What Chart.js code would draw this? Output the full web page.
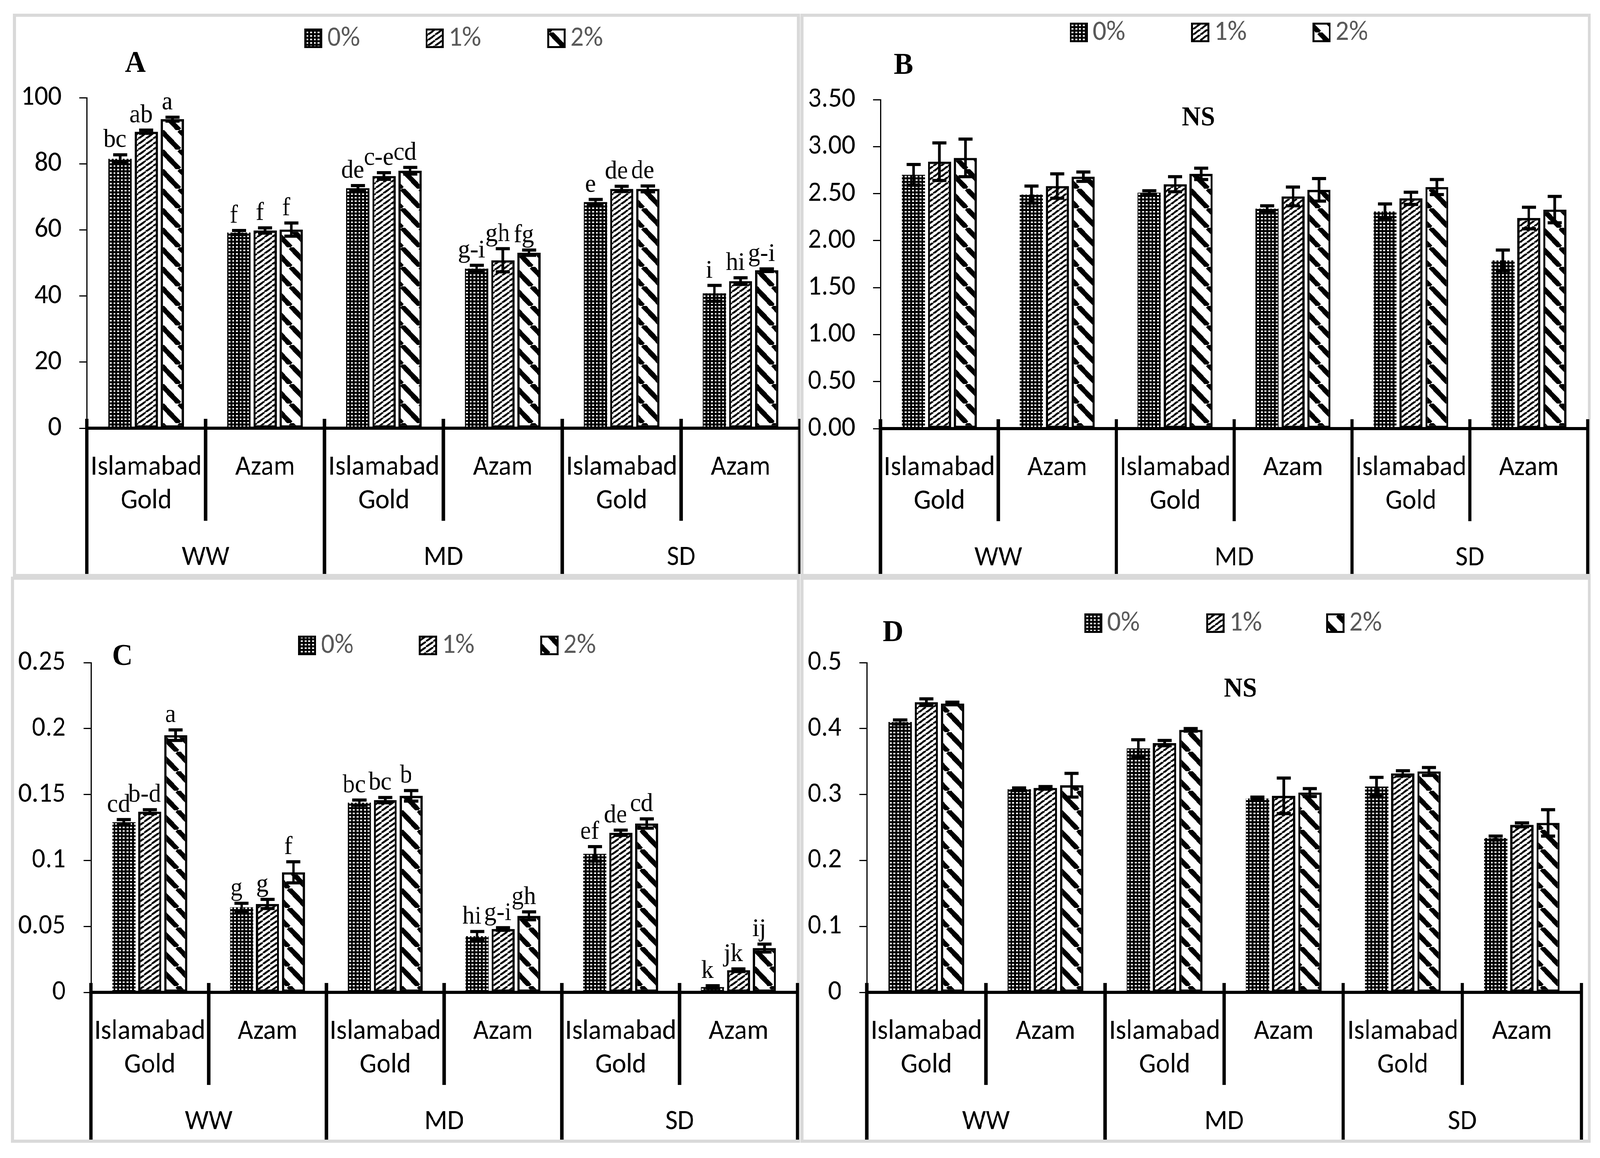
<!DOCTYPE html>
<html>
<head>
<meta charset="utf-8">
<script src="https://cdn.jsdelivr.net/npm/chart.js@4.4.0/dist/chart.umd.min.js"></script>
<style>
  html, body { margin: 0; background: #fff; overflow: hidden; }
  #wrap { position: relative; overflow: hidden; background: #fff; }
  #page { position: absolute; left: 0; top: 0; width: 4312px; height: 2964px; transform-origin: 0 0; background: #fff; }
  canvas { position: absolute; }
</style>
</head>
<body>
<div id="wrap">
<div id="page">
<canvas id="pA"></canvas>
<canvas id="pB"></canvas>
<canvas id="pC"></canvas>
<canvas id="pD"></canvas>
</div>
</div>
<script>
// categories
const cultivars = [['Islamabad', 'Gold'], ['Azam'], ['Islamabad', 'Gold'], ['Azam'], ['Islamabad', 'Gold'], ['Azam']];
const regimes = ['WW', 'MD', 'SD'];
const levels = ['0%', '1%', '2%'];

// panel A
const a0 = [81.5, 59.2, 72.6, 48.3, 68.4, 40.8];
const a0err = [1.2, 0.6, 0.8, 1.0, 0.8, 2.4];
const a0let = ['bc', 'f', 'de', 'g-i', 'e', 'i'];
const a1 = [89.7, 59.8, 76.3, 50.8, 72.4, 44.5];
const a1err = [0.5, 0.8, 1.0, 3.5, 0.8, 1.0];
const a1let = ['ab', 'f', 'c-e', 'gh', 'de', 'hi'];
const a2 = [93.5, 60.1, 77.9, 53.1, 72.4, 47.8];
const a2err = [0.6, 2.0, 1.0, 0.8, 0.9, 0.4];
const a2let = ['a', 'f', 'cd', 'fg', 'de', 'g-i'];
const tickValA = [0, 20, 40, 60, 80, 100];
const tickLabA = ['0', '20', '40', '60', '80', '100'];

// panel B
const b0 = [2.70, 2.49, 2.51, 2.34, 2.31, 1.79];
const b0err = [0.11, 0.09, 0.02, 0.03, 0.08, 0.11];
const b1 = [2.84, 2.58, 2.60, 2.47, 2.45, 2.24];
const b1err = [0.20, 0.13, 0.08, 0.10, 0.065, 0.115];
const b2 = [2.88, 2.68, 2.71, 2.54, 2.57, 2.33];
const b2err = [0.20, 0.05, 0.06, 0.12, 0.08, 0.14];
const tickValB = [0, 0.5, 1, 1.5, 2, 2.5, 3, 3.5];
const tickLabB = ['0.00', '0.50', '1.00', '1.50', '2.00', '2.50', '3.00', '3.50'];

// panel C
const c0 = [0.129, 0.0645, 0.1438, 0.0426, 0.105, 0.004];
const c0err = [0.002, 0.003, 0.002, 0.0035, 0.0055, 0.001];
const c0let = ['cd', 'g', 'bc', 'hi', 'ef', 'k'];
const c1 = [0.137, 0.067, 0.1457, 0.048, 0.121, 0.0168];
const c1err = [0.0015, 0.0035, 0.002, 0.001, 0.002, 0.001];
const c1let = ['b-d', 'g', 'bc', 'g-i', 'de', 'jk'];
const c2 = [0.195, 0.091, 0.149, 0.058, 0.128, 0.0336];
const c2err = [0.004, 0.008, 0.004, 0.003, 0.0035, 0.003];
const c2let = ['a', 'f', 'b', 'gh', 'cd', 'ij'];
const tickValC = [0, 0.05, 0.1, 0.15, 0.2, 0.25];
const tickLabC = ['0', '0.05', '0.1', '0.15', '0.2', '0.25'];

// panel D
const d0 = [0.41, 0.308, 0.37, 0.294, 0.312, 0.234];
const d0err = [0.003, 0.002, 0.013, 0.002, 0.014, 0.003];
const d1 = [0.44, 0.31, 0.378, 0.298, 0.332, 0.254];
const d1err = [0.005, 0.002, 0.004, 0.027, 0.004, 0.003];
const d2 = [0.438, 0.314, 0.398, 0.303, 0.335, 0.257];
const d2err = [0.002, 0.018, 0.002, 0.006, 0.006, 0.02];
const tickValD = [0, 0.1, 0.2, 0.3, 0.4, 0.5];
const tickLabD = ['0', '0.1', '0.2', '0.3', '0.4', '0.5'];

const SANS = 'Carlito, "Liberation Sans Narrow", "DejaVu Sans Condensed", sans-serif';
const SERIF = '"Liberation Serif", "Times New Roman", serif';

// stretch the 4312x2964 layout over the whole viewport we actually get
const wrap = document.getElementById('wrap');
const page = document.getElementById('page');
const vw = window.innerWidth, vh = window.innerHeight;
wrap.style.width = vw + 'px';
wrap.style.height = vh + 'px';
const sx = vw / 4312, sy = vh / 2964;
page.style.transform = 'scale(' + sx + ',' + sy + ')';
const dpr = (window.devicePixelRatio || 1) * Math.max(sx, sy);

// hatch patterns
function patDots() {
    let c = document.createElement('canvas');
    c.width = 10; c.height = 9;
    let x = c.getContext('2d');
    x.fillStyle = '#000'; x.fillRect(0, 0, 10, 9);
    x.fillStyle = '#fff'; x.fillRect(3, 3, 5, 4);
    return x.createPattern(c, 'repeat');
}
function patDiag(w, h, lw, up) {
    let c = document.createElement('canvas');
    c.width = w; c.height = h;
    let x = c.getContext('2d');
    x.fillStyle = '#fff'; x.fillRect(0, 0, w, h);
    x.strokeStyle = '#000'; x.lineWidth = lw;
    x.beginPath();
    for (let k = -1; k <= 1; k++) {
        if (up) { x.moveTo(k * w, h); x.lineTo(k * w + w, 0); }
        else { x.moveTo(k * w, 0); x.lineTo(k * w + w, h); }
    }
    x.stroke();
    return x.createPattern(c, 'repeat');
}
const fills = [patDots(), patDiag(20, 14, 5, true), patDiag(50, 50, 13, false)];

const panels = [
    { id: 'pA', frame: [39, 39, 2152, 1473], axisL: 234, axisR: 2156, yTop: 250, y0: 1096,
      vals: tickValA, labs: tickLabA, series: [a0, a1, a2], errs: [a0err, a1err, a2err], lets: [a0let, a1let, a2let],
      legX: [820, 1147, 1475], legY: 73, tag: 'A', tagXY: [365, 184], ns: null },
    { id: 'pB', frame: [2161, 39, 4283, 1473], axisL: 2373, axisR: 4279, yTop: 255, y0: 1097,
      vals: tickValB, labs: tickLabB, series: [b0, b1, b2], errs: [b0err, b1err, b2err], lets: null,
      legX: [2883, 3210, 3537], legY: 58, tag: 'B', tagXY: [2435, 189], ns: [3230, 321] },
    { id: 'pC', frame: [34, 1480, 2152, 2921], axisL: 245, axisR: 2149, yTop: 1696, y0: 2540,
      vals: tickValC, labs: tickLabC, series: [c0, c1, c2], errs: [c0err, c1err, c2err], lets: [c0let, c1let, c2let],
      legX: [803, 1129, 1456], legY: 1627, tag: 'C', tagXY: [330, 1702], ns: null },
    { id: 'pD', frame: [2161, 1480, 4283, 2921], axisL: 2336, axisR: 4262, yTop: 1696, y0: 2540,
      vals: tickValD, labs: tickLabD, series: [d0, d1, d2], errs: [d0err, d1err, d2err], lets: null,
      legX: [2922, 3251, 3574], legY: 1570, tag: 'D', tagXY: [2407, 1641], ns: [3343, 1783] }
];

function makePanel(p) {
    let cv = document.getElementById(p.id);
    let ox = p.frame[0] - 6, oy = p.frame[1] - 6;
    let W = p.frame[2] - p.frame[0] + 12, H = p.frame[3] - p.frame[1] + 12;
    cv.width = W; cv.height = H;
    cv.style.left = ox + 'px'; cv.style.top = oy + 'px';
    cv.style.width = W + 'px'; cv.style.height = H + 'px';

    let decor = {
        id: 'decor' + p.id,
        beforeDraw(chart) {
            let ctx = chart.ctx;
            ctx.save();
            ctx.strokeStyle = '#d9d9d9';
            ctx.lineWidth = 8;
            ctx.strokeRect(6, 6, W - 12, H - 12);
            ctx.restore();
        },
        afterDatasetsDraw(chart) {
            let ctx = chart.ctx;
            let ys = chart.scales.y;
            ctx.save();
            ctx.strokeStyle = '#000';
            ctx.fillStyle = '#000';
            chart.data.datasets.forEach((ds, di) => {
                let meta = chart.getDatasetMeta(di);
                meta.data.forEach((bar, i) => {
                    let v = ds.data[i], e = p.errs[di][i];
                    let yt = ys.getPixelForValue(v + e), yb = ys.getPixelForValue(v - e);
                    ctx.lineWidth = 7;
                    ctx.beginPath();
                    ctx.moveTo(bar.x, yb); ctx.lineTo(bar.x, yt);
                    ctx.stroke();
                    ctx.lineWidth = 8;
                    ctx.beginPath();
                    ctx.moveTo(bar.x - 19, yt); ctx.lineTo(bar.x + 19, yt);
                    ctx.moveTo(bar.x - 19, yb); ctx.lineTo(bar.x + 19, yb);
                    ctx.stroke();
                    if (p.lets) {
                        ctx.font = '66px ' + SERIF;
                        ctx.textAlign = 'center';
                        ctx.textBaseline = 'alphabetic';
                        ctx.fillText(p.lets[di][i], bar.x - 14, yt - 20);
                    }
                });
            });
            ctx.restore();
        },
        afterDraw(chart) {
            let ctx = chart.ctx;
            let a = chart.chartArea;
            let n = cultivars.length;
            let cw = (a.right - a.left) / n;
            let y0 = a.bottom;
            let fb = H - 10;
            ctx.save();
            ctx.strokeStyle = '#000';
            // category axis line
            ctx.lineWidth = 8;
            ctx.beginPath();
            ctx.moveTo(a.left, y0); ctx.lineTo(a.right, y0);
            ctx.stroke();
            // separators
            ctx.lineWidth = 9;
            for (let i = 0; i <= n; i++) {
                let x = a.left + i * cw;
                ctx.beginPath();
                ctx.moveTo(x, y0 - 24);
                ctx.lineTo(x, i % 2 === 0 ? fb : y0 + 237);
                ctx.stroke();
            }
            // labels
            ctx.fillStyle = '#000';
            ctx.font = '72px ' + SANS;
            ctx.textAlign = 'center';
            ctx.textBaseline = 'middle';
            cultivars.forEach((lab, i) => {
                let cx = a.left + (i + 0.5) * cw;
                lab.forEach((t, k) => ctx.fillText(t, cx, y0 + 101 + k * 86));
            });
            regimes.forEach((g, j) => {
                ctx.fillText(g, a.left + (2 * j + 1) * cw, y0 + 332);
            });
            // legend
            levels.forEach((t, i) => {
                let lx = p.legX[i] - ox, ly = p.legY - oy;
                ctx.fillStyle = fills[i];
                ctx.fillRect(lx, ly, 49, 50);
                ctx.lineWidth = 5;
                ctx.strokeRect(lx + 2.5, ly + 2.5, 44, 45);
                ctx.fillStyle = '#595959';
                ctx.textAlign = 'left';
                ctx.fillText(t, lx + 62, ly + 26);
            });
            // panel tag and NS
            ctx.fillStyle = '#000';
            ctx.textAlign = 'center';
            ctx.textBaseline = 'alphabetic';
            ctx.font = 'bold 78px ' + SERIF;
            ctx.fillText(p.tag, p.tagXY[0] - ox, p.tagXY[1] - oy);
            if (p.ns) {
                ctx.font = 'bold 70px ' + SERIF;
                ctx.fillText('NS', p.ns[0] - ox, p.ns[1] - oy);
            }
            ctx.restore();
        }
    };

    new Chart(cv, {
        type: 'bar',
        data: {
            labels: cultivars.map(c => c.join(' ')),
            datasets: levels.map((lv, i) => ({
                label: lv,
                data: p.series[i],
                backgroundColor: fills[i],
                borderColor: '#000',
                borderWidth: i === 0 ? 0 : 6,
                borderSkipped: false,
                categoryPercentage: 0.66,
                barPercentage: 0.89
            }))
        },
        options: {
            responsive: false,
            devicePixelRatio: dpr,
            animation: false,
            layout: {
                padding: { left: 0, top: p.yTop - oy, right: ox + W - p.axisR, bottom: oy + H - p.y0 }
            },
            scales: {
                x: { display: false },
                y: {
                    min: p.vals[0],
                    max: p.vals[p.vals.length - 1],
                    afterBuildTicks(ax) { ax.ticks = p.vals.map(v => ({ value: v })); },
                    afterFit(ax) { ax.width = p.axisL - ox; },
                    grid: { drawOnChartArea: false, drawTicks: true, tickLength: 20, color: '#000', lineWidth: 3 },
                    border: { display: true, color: '#000', width: 3 },
                    ticks: {
                        padding: 48,
                        color: '#000',
                        font: { family: SANS, size: 72 },
                        callback: (v, i) => p.labs[i]
                    }
                }
            },
            plugins: { legend: { display: false }, tooltip: { enabled: false } }
        },
        plugins: [decor]
    });
}

panels.forEach(makePanel);
</script>
</body>
</html>
